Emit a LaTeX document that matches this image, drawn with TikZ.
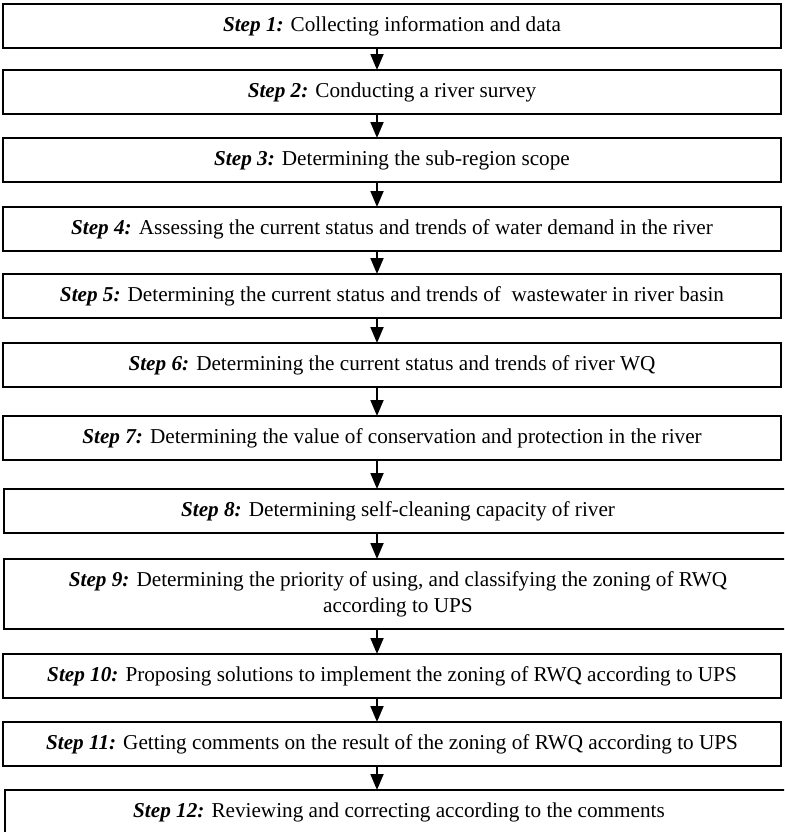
\documentclass[tikz,border=0pt]{standalone}
\usepackage{fontspec}
\setmainfont{Liberation Serif}
\usetikzlibrary{arrows.meta,positioning}
\newcommand{\stepno}[1]{\textbf{\textit{Step #1:}}}
\tikzset{
>=Triangle,
stepbox/.style={draw,line width=0.9pt,outer sep=0pt,minimum width=389pt,minimum height=22pt,inner sep=2pt,
  align=center,font=\fontsize{10.6}{13}\selectfont},
wide box/.style={minimum width=394pt},
tall box/.style={minimum height=35pt},
flow arrow/.style={-{Triangle[length=8pt,width=6.5pt]},line width=0.9pt}}

\begin{document}
\begin{tikzpicture}

\useasboundingbox (0,0) rectangle (392pt,-416pt);
\clip (0,0) rectangle (392pt,-416pt);

      \coordinate (axis) at (188.5pt,0);

      \node (s1) [stepbox,anchor=north west] at (1.5pt,-2pt) {\stepno{1} Collecting information and data};
      \node (s2) [stepbox,below=11pt of s1.south west,anchor=north west] {\stepno{2} Conducting a river survey};
      \node (s3) [stepbox,below=12pt of s2.south west,anchor=north west] {\stepno{3} Determining the sub-region scope};
      \node (s4) [stepbox,below=12.5pt of s3.south west,anchor=north west] {\stepno{4} Assessing the current status and trends of water demand in the river};
      \node (s5) [stepbox,below=11.5pt of s4.south west,anchor=north west] {\stepno{5} Determining the current status and trends of\ \ wastewater in river basin};
      \node (s6) [stepbox,below=12.5pt of s5.south west,anchor=north west] {\stepno{6} Determining the current status and trends of river WQ};
      \node (s7) [stepbox,below=14.5pt of s6.south west,anchor=north west] {\stepno{7} Determining the value of conservation and protection in the river};
      \node (s8) [stepbox,wide box,below=14.5pt of s7.south west,anchor=north west,xshift=0.5pt] {\stepno{8} Determining self-cleaning capacity of river};
      \node (s9) [stepbox,wide box,tall box,below=13pt of s8.south west,anchor=north west] {\stepno{9} Determining the priority of using, and classifying the zoning of RWQ\\ according to UPS};
      \node (s10) [stepbox,below=12.5pt of s9.south west,anchor=north west,xshift=-0.5pt] {\stepno{10} Proposing solutions to implement the zoning of RWQ according to UPS};
      \node (s11) [stepbox,below=12pt of s10.south west,anchor=north west] {\stepno{11} Getting comments on the result of the zoning of RWQ according to UPS};
      \node (s12) [stepbox,wide box,below=12pt of s11.south west,anchor=north west,xshift=1pt] {\stepno{12} Reviewing and correcting according to the comments};

      \path[flow arrow] (s1.south -| axis) edge (s2.north -| axis)
                        (s2.south -| axis) edge (s3.north -| axis)
                        (s3.south -| axis) edge (s4.north -| axis)
                        (s4.south -| axis) edge (s5.north -| axis)
                        (s5.south -| axis) edge (s6.north -| axis)
                        (s6.south -| axis) edge (s7.north -| axis)
                        (s7.south -| axis) edge (s8.north -| axis)
                        (s8.south -| axis) edge (s9.north -| axis)
                        (s9.south -| axis) edge (s10.north -| axis)
                        (s10.south -| axis) edge (s11.north -| axis)
                        (s11.south -| axis) edge (s12.north -| axis);
\end{tikzpicture}
\end{document}
